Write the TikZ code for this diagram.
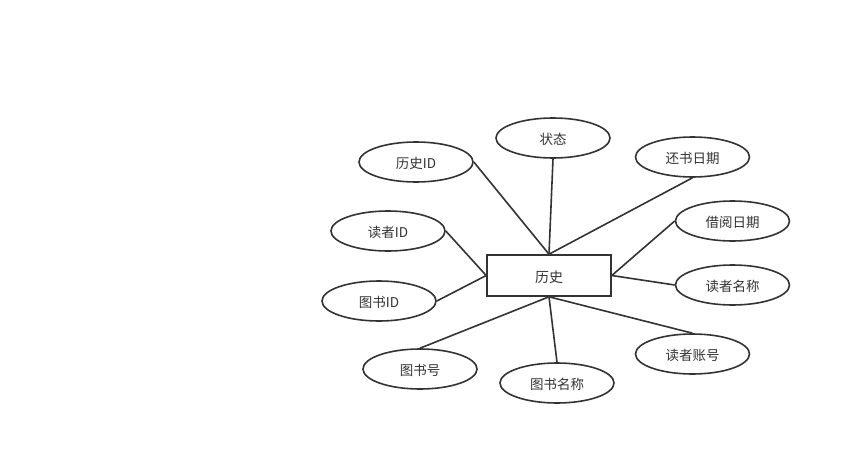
\documentclass[tikz,border=0pt]{standalone}
\usepackage{fontspec}
\setmainfont{Liberation Sans}
\newfontfamily\cjk{Noto Sans CJK SC}
\usetikzlibrary{shapes.geometric}
\definecolor{ink}{HTML}{333333}
\begin{document}
\begin{tikzpicture}[x=1pt,y=-1pt,
  attr/.style={draw=ink,line width=1.6pt,ellipse,minimum width=114pt,minimum height=40pt,inner sep=0pt,font=\cjk\fontsize{13.5}{15}\selectfont,text=ink},
  ent/.style={draw=ink,line width=1.6pt,rectangle,minimum width=124pt,minimum height=41pt,inner sep=0pt,font=\cjk\fontsize{14}{16}\selectfont,text=ink},
  lbl/.style={font=\cjk\fontsize{13.5}{15}\selectfont,text=ink,inner sep=0pt},
  link/.style={draw=ink,line width=1.6pt}]
\useasboundingbox (0,0) rectangle (852,466);
\node[ent] (h) at (549,275.5) {};
\node[attr] (zt) at (553,138) {};
\node[attr] (hid) at (416,162) {};
\node[attr] (hs) at (692.5,157) {};
\node[attr] (did) at (388,231) {};
\node[attr] (jy) at (732.5,221) {};
\node[attr] (tid) at (379,301) {};
\node[attr] (dm) at (732.5,285) {};
\node[attr] (th) at (420,369) {};
\node[attr] (tm) at (557,383) {};
\node[attr] (dz) at (692.5,354) {};
\node[lbl,font=\cjk\fontsize{14}{16}\selectfont] (th0) at ([yshift=-1.5pt]h.center) {历史};
\node[lbl] (t1) at ([yshift=-1.5pt]zt.center) {状态};
\node[lbl] (t2) at ([yshift=-1.5pt]hid.center) {历史ID};
\node[lbl] (t3) at ([yshift=-1.5pt]hs.center) {还书日期};
\node[lbl] (t4) at ([yshift=-1.5pt]did.center) {读者ID};
\node[lbl] (t5) at ([yshift=-1.5pt]jy.center) {借阅日期};
\node[lbl] (t6) at ([yshift=-1.5pt]tid.center) {图书ID};
\node[lbl] (t7) at ([yshift=-1.5pt]dm.center) {读者名称};
\node[lbl] (t8) at ([yshift=-1.5pt]th.center) {图书号};
\node[lbl] (t9) at ([yshift=-1.5pt]tm.center) {图书名称};
\node[lbl] (t10) at ([yshift=-1.5pt]dz.center) {读者账号};
\draw[link] (hid.east) -- (h.north);
\draw[link] (zt.south) -- (h.north);
\draw[link] (hs.south) -- (h.north);
\draw[link] (did.east) -- (h.west);
\draw[link] (tid.east) -- (h.west);
\draw[link] (jy.west) -- (h.east);
\draw[link] (dm.west) -- (h.east);
\draw[link] (th.north) -- (h.south);
\draw[link] (tm.north) -- (h.south);
\draw[link] (dz.north) -- (h.south);
\end{tikzpicture}
\end{document}
